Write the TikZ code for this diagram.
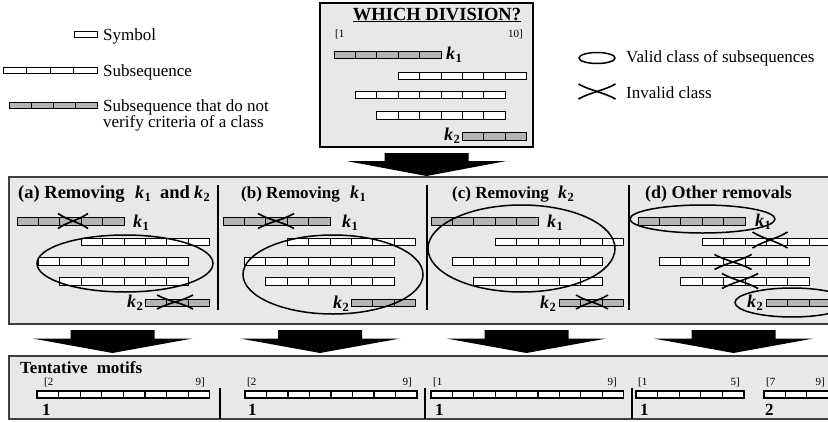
\documentclass[tikz,border=0pt]{standalone}
\usepackage{fontspec}
\setmainfont{Liberation Serif}
\definecolor{panelbg}{HTML}{E8E8E8}
\definecolor{barfill}{HTML}{B4B4B4}
\tikzset{
 lg/.style={font=\fontsize{17}{17}\selectfont, anchor=base west, inner sep=0pt},
 ttl/.style={font=\bfseries\fontsize{18.5}{18}\selectfont, anchor=base west, inner sep=0pt},
 ttlsmall/.style={font=\bfseries\fontsize{17}{17}\selectfont, anchor=base west, inner sep=0pt},
 klab/.style={font=\fontsize{18}{18}\selectfont, anchor=base west, inner sep=0pt},
 idx/.style={font=\fontsize{11}{11}\selectfont, inner sep=0pt},
 motifnum/.style={font=\bfseries\fontsize{17}{17}\selectfont, anchor=base west, inner sep=0pt},
 cell/.style={draw=black, line width=0.9pt},
 valid/.style={draw=black, line width=1.5pt},
 cross/.style={draw=black, line width=1.6pt},
 panel/.style={draw=black!75, line width=1.4pt, fill=panelbg},
 blockarrow/.style={fill=black},
 divider/.style={draw=black, line width=1.6pt},
}
\newcommand\seqcells[6]{% x0, yc, n, w, half-height, fill
 \foreach \ci in {1,...,#3}{\draw[cell, fill=#6] ({#1+(\ci-1)*#4},{#2-#5}) rectangle ({#1+\ci*#4},{#2+#5});}}
\newcommand\panelrows[6]{%
 \seqcells{#1}{#2}{5}{21.4}{3.75}{barfill}
 \seqcells{#1+64.2}{#3}{6}{21.4}{3.75}{white}
 \seqcells{#1+21.4}{#4}{7}{21.4}{3.75}{white}
 \seqcells{#1+42.8}{#5}{6}{21.4}{3.75}{white}
 \seqcells{#1+128.4}{#6}{3}{21.4}{3.75}{barfill}}
\newcommand\invalid[4]{% cx, cy, hw, hh
 \draw[cross] ({#1-#3},{#2-#4}) .. controls ({#1-0.35*#3},{#2-0.1*#4}) and ({#1+0.35*#3},{#2+0.1*#4}) .. ({#1+#3},{#2+#4});
 \draw[cross] ({#1-#3},{#2+#4}) .. controls ({#1-0.35*#3},{#2+0.1*#4}) and ({#1+0.35*#3},{#2-0.1*#4}) .. ({#1+#3},{#2-#4});}
\newcommand\blockdown[4]{% cx, ystem, yhead, ytip
 \fill[blockarrow] ({#1-42},#2) -- ({#1+42},#2) -- ({#1+42},#3) -- ({#1+80},#3) -- (#1,#4) -- ({#1-80},#3) -- ({#1-42},#3) -- cycle;}
\newcommand\kk[1]{\textbf{\textit{k}}\kern0.3pt\raisebox{-3.5pt}{\bfseries\fontsize{12.5}{12.5}\selectfont #1}}
\begin{document}
\begin{tikzpicture}[x=1pt,y=-1pt]
\useasboundingbox (0,0) rectangle (828,421);
\clip (0,0) rectangle (828,421);
\fill[white] (0,0) rectangle (828,421);

% ---------- left legend ----------
\draw[cell] (74,31) rectangle (97,37);
\node[lg] (lsym) at (103,40) {Symbol};
\seqcells{3}{70.5}{4}{23.5}{3}{white}
\node[lg] (lsub) at (103,76) {Subsequence};
\seqcells{9}{105}{4}{22}{3}{barfill}
\node[lg] (lbad1) at (103,111) {Subsequence that do not};
\node[lg] (lbad2) at (103,127) {verify criteria of a class};

% ---------- right legend ----------
\draw[valid] (597,58) ellipse [x radius=18, y radius=5.5];
\node[lg] (lvalid) at (626,62) {Valid class of subsequences};
\invalid{597}{91.5}{18.5}{7.5}
\node[lg] (linvalid) at (626,98) {Invalid class};

% ---------- top box ----------
\draw[line width=1.4pt, fill=panelbg] (320,3) rectangle (533,147);
\node[font=\bfseries\fontsize{18.5}{18}\selectfont, anchor=base, inner sep=0pt] (title) at (437,20) {\underline{WHICH DIVISION?}};
\node[idx, anchor=base west] (t1) at (335,37) {[1};
\node[idx, anchor=base east] (t10) at (523,37) {10]};
\panelrows{334}{55}{76}{95}{115.5}{136.5}
\node[klab] (tk1) at (446,59) {\kk{1}};
\node[klab] (tk2) at (444,140) {\kk{2}};

\blockdown{426.5}{153}{161}{176}

% ---------- middle panel ----------
\draw[panel] (9,177) rectangle (845,324);
\draw[divider] (218,185) -- (218,310);
\draw[divider] (427,185) -- (427,310);
\draw[divider] (629,185) -- (629,310);

% (a)
\node[ttl] (ta) at (18,198) {(a) Removing};
\node[klab] (tak1) at (135,198) {\kk{1}};
\node[ttl] (taand) at (160,198) {and};
\node[klab] (tak2) at (194,198) {\kk{2}};
\panelrows{17}{221.5}{242}{261.5}{281.5}{303}
\node[klab] (ak1) at (133,227) {\kk{1}};
\node[klab] (ak2) at (127,307) {\kk{2}};
\draw[valid] (125,263.5) ellipse [x radius=88, y radius=28.5];
\invalid{73}{221}{15}{7.5}
\invalid{175}{302}{18}{7}

% (b)
\node[ttlsmall] (tb) at (241,198) {(b) Removing};
\node[klab] (tbk1) at (350,198) {\kk{1}};
\panelrows{223}{221.5}{242}{261.5}{281.5}{303}
\node[klab] (bk1) at (342,227) {\kk{1}};
\node[klab] (bk2) at (333,308) {\kk{2}};
\draw[valid] (333,274.5) ellipse [x radius=90, y radius=39.5];
\invalid{276}{221}{18}{7.5}

% (c)
\node[ttlsmall] (tc) at (452,198) {(c) Removing};
\node[klab] (tck2) at (558,198) {\kk{2}};
\panelrows{431}{221.5}{242}{261.5}{281.5}{303}
\node[klab] (ck1) at (547,227) {\kk{1}};
\node[klab] (ck2) at (540,308) {\kk{2}};
\draw[valid] (521.5,248.5) ellipse [x radius=93.5, y radius=43.5];
\invalid{592}{302}{16}{7}

% (d)
\node[ttl, font=\bfseries\fontsize{18}{18}\selectfont] (td) at (645,198) {(d) Other removals};
\panelrows{638}{221.5}{242}{261.5}{281.5}{303}
\node[klab] (dk1) at (755,226) {\kk{1}};
\node[klab] (dk2) at (747,307) {\kk{2}};
\draw[valid] (702.5,219) ellipse [x radius=72.5, y radius=14];
\draw[valid] (792,302.5) ellipse [x radius=57, y radius=14.5];
\invalid{770}{240}{17.5}{8}
\invalid{733}{262}{18.5}{7.5}
\invalid{740}{281}{18}{7.5}

% ---------- arrows ----------
\blockdown{112.5}{330}{338.5}{353}
\blockdown{320}{330}{338.5}{353}
\blockdown{526.5}{330}{338.5}{353}
\blockdown{733.5}{330}{338.5}{353}

% ---------- bottom panel ----------
\draw[panel] (9,356) rectangle (845,419);
\node[ttl, font=\bfseries\fontsize{17}{17}\selectfont] (tm) at (20,373) {Tentative\hspace{5pt} motifs};
\draw[divider] (220,388) -- (220,419);
\draw[divider] (425,388) -- (425,419);
\draw[divider] (632,388) -- (632,419);
\begin{scope}[cell/.append style={line width=1.3pt}]
\seqcells{37}{394.5}{8}{21.6}{3.5}{white}
\seqcells{245}{394.5}{8}{21.5}{3.5}{white}
\seqcells{431}{394.5}{9}{21.4}{3.5}{white}
\seqcells{636}{394.5}{5}{21.6}{3.5}{white}
\seqcells{764}{394.5}{3}{21.4}{3.5}{white}
\end{scope}
\node[idx, anchor=base west] (m1a) at (44,385) {[2};
\node[idx, anchor=base east] (m1b) at (205,385) {9]};
\node[motifnum] (m1n) at (42,415) {1};
\node[idx, anchor=base west] (m2a) at (247,385) {[2};
\node[idx, anchor=base east] (m2b) at (412,385) {9]};
\node[motifnum] (m2n) at (248,415) {1};
\node[idx, anchor=base west] (m3a) at (433,385) {[1};
\node[idx, anchor=base east] (m3b) at (617,385) {9]};
\node[motifnum] (m3n) at (435,415) {1};
\node[idx, anchor=base west] (m4a) at (638,385) {[1};
\node[idx, anchor=base east] (m4b) at (740,385) {5]};
\node[motifnum] (m4n) at (640,415) {1};
\node[idx, anchor=base west] (m5a) at (766,385) {[7};
\node[idx, anchor=base east] (m5b) at (825,385) {9]};
\node[motifnum] (m5n) at (765,415) {2};
\end{tikzpicture}
\end{document}
